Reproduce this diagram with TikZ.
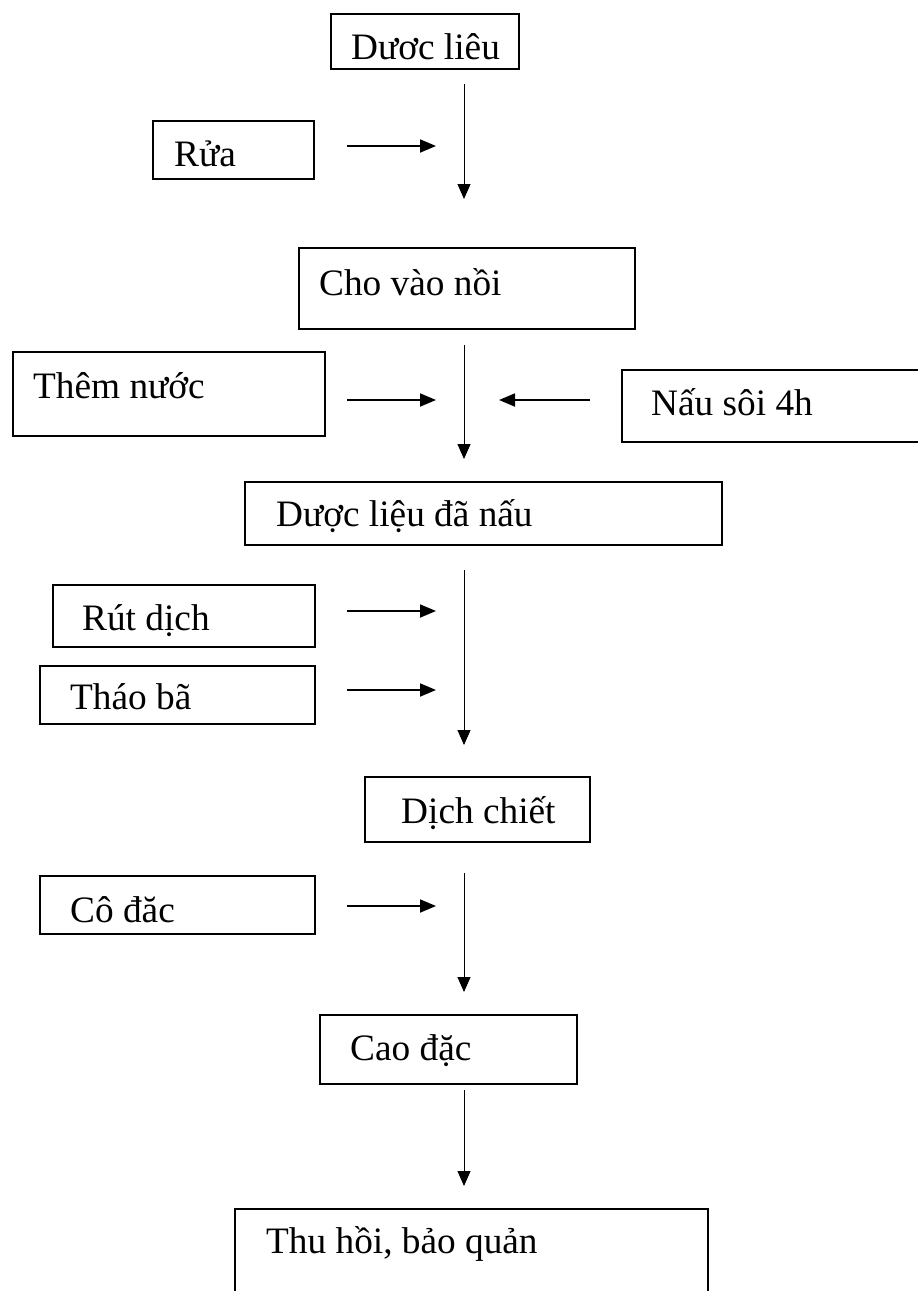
\documentclass[tikz,border=0pt]{standalone}
\usepackage{fontspec}
\setmainfont{Liberation Serif}
\usetikzlibrary{arrows.meta,fit}
\begin{document}
\begin{tikzpicture}[x=1pt,y=-1pt,
  box/.style={draw, line width=1.4pt, inner sep=0pt, rectangle},
  lbl/.style={anchor=base west, inner sep=0pt, font=\fontsize{37.3}{41}\selectfont},
  flow/.style={line width=1pt, -{Triangle[length=15pt,width=13pt]}},
  side/.style={line width=1.8pt, -{Triangle[length=16pt,width=13pt]}}]
\useasboundingbox (0,0) rectangle (918,1291);
% boxes
\node[box, fit={(331,14) (519,69)}] (b1) {};
\node[box, fit={(153,121) (314,179)}] (b2) {};
\node[box, fit={(299,248) (635,329)}] (b3) {};
\node[box, fit={(13,352) (325,436)}] (b4) {};
\draw[line width=1.8pt] (918,370) -- (622,370) -- (622,442) -- (918,442);
\node[box, fit={(245,482) (722,545)}] (b6) {};
\node[box, fit={(53,585) (315,647)}] (b7) {};
\node[box, fit={(40,666) (315,724)}] (b8) {};
\node[box, fit={(365,777) (590,842)}] (b9) {};
\node[box, fit={(40,876) (315,934)}] (b10) {};
\node[box, fit={(320,1015) (577,1084)}] (b11) {};
\draw[line width=1.4pt] (235,1291) -- (235,1209) -- (708,1209) -- (708,1291);
% labels
\node[lbl] (t1) at (351,59) {Dươc liêu};
\node[lbl] (t2) at (174,166) {Rửa};
\node[lbl] (t3) at (319,295) {Cho vào nồi};
\node[lbl] (t4) at (33,398) {Thêm nước};
\node[lbl] (t5) at (651,415) {Nấu sôi 4h};
\node[lbl] (t6) at (276,526) {Dược liệu đã nấu};
\node[lbl] (t7) at (82,630) {Rút dịch};
\node[lbl] (t8) at (70,709) {Tháo bã};
\node[lbl] (t9) at (401,823) {Dịch chiết};
\node[lbl] (t10) at (70,922) {Cô đăc};
\node[lbl] (t11) at (350,1060) {Cao đặc};
\node[lbl] (t12) at (266,1253) {Thu hồi, bảo quản};
% vertical flow
\coordinate (v1a) at (464,84);  \coordinate (v1b) at (464,199);
\coordinate (v2a) at (464,345); \coordinate (v2b) at (464,459);
\coordinate (v3a) at (464,570); \coordinate (v3b) at (464,745);
\coordinate (v4a) at (464,873); \coordinate (v4b) at (464,992);
\coordinate (v5a) at (464,1090); \coordinate (v5b) at (464,1186);
\draw[flow] (v1a) -- (v1b);
\draw[flow] (v2a) -- (v2b);
\draw[flow] (v3a) -- (v3b);
\draw[flow] (v4a) -- (v4b);
\draw[flow] (v5a) -- (v5b);
% side arrows
\coordinate (h1a) at (347,146); \coordinate (h1b) at (436,146);
\coordinate (h2a) at (347,400); \coordinate (h2b) at (436,400);
\coordinate (h3a) at (590,400); \coordinate (h3b) at (499,400);
\coordinate (h4a) at (347,611); \coordinate (h4b) at (436,611);
\coordinate (h5a) at (347,690); \coordinate (h5b) at (436,690);
\coordinate (h6a) at (347,906); \coordinate (h6b) at (436,906);
\draw[side] (h1a) -- (h1b);
\draw[side] (h2a) -- (h2b);
\draw[side] (h3a) -- (h3b);
\draw[side] (h4a) -- (h4b);
\draw[side] (h5a) -- (h5b);
\draw[side] (h6a) -- (h6b);
\end{tikzpicture}
\end{document}
